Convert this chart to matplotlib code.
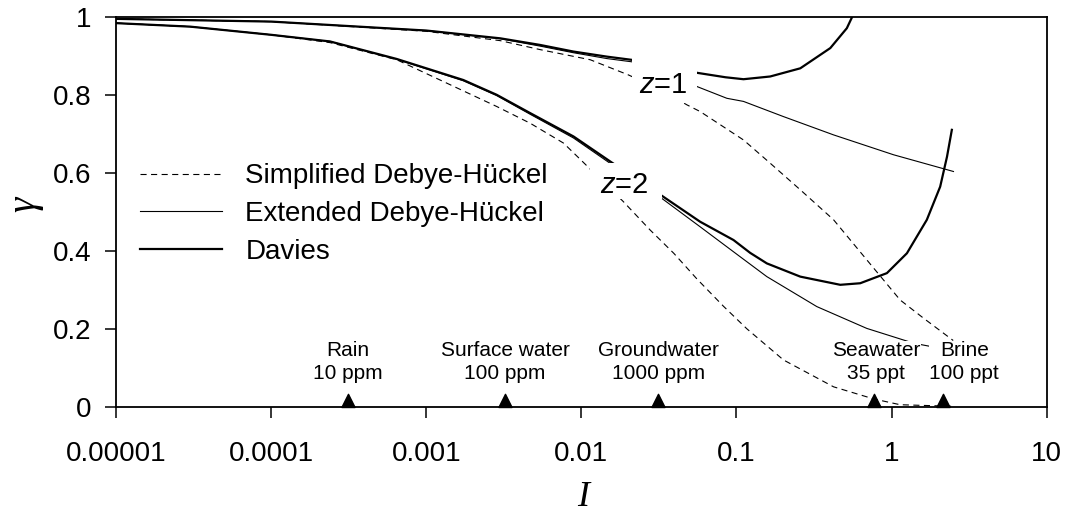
import matplotlib
matplotlib.use("Agg")
import matplotlib.pyplot as plt
from matplotlib.patches import Rectangle
from matplotlib.path import Path
from matplotlib.ticker import NullLocator

plt.rcParams['font.family'] = ['Liberation Sans', 'DejaVu Sans']
plt.rcParams['mathtext.fontset'] = 'custom'
plt.rcParams['mathtext.it'] = 'Liberation Sans:italic'
plt.rcParams['mathtext.rm'] = 'Liberation Sans'

# ---- data ----
# z = 1
I_sdh1 = [1e-5, 1e-4, 1e-3, 3e-3, 5.42e-3, 0.0114, 0.0201, 0.032, 0.048, 0.0583, 0.111,
          0.16, 0.258, 0.423, 0.693, 1.137, 1.6, 2.16, 2.5]
g_sdh1 = [0.996, 0.989, 0.964, 0.940, 0.917, 0.891, 0.852, 0.815, 0.775, 0.758, 0.685,
          0.630, 0.557, 0.480, 0.377, 0.274, 0.228, 0.189, 0.170]

I_edh1 = [1e-5, 1e-4, 1e-3, 3e-3, 5.42e-3, 8.89e-3, 0.0146, 0.0228, 0.035, 0.0566, 0.0867,
          0.111, 0.201, 0.423, 1.03, 2.51]
g_edh1 = [0.996, 0.989, 0.966, 0.945, 0.926, 0.909, 0.894, 0.884, 0.855, 0.821, 0.792,
          0.784, 0.745, 0.698, 0.647, 0.604]

I_dav1 = [1e-5, 1e-4, 1e-3, 3e-3, 5.42e-3, 8.89e-3, 0.0146, 0.0228, 0.035, 0.0566, 0.085,
          0.111, 0.165, 0.258, 0.403, 0.515, 0.556, 0.60]
g_dav1 = [0.996, 0.989, 0.966, 0.946, 0.929, 0.912, 0.899, 0.889, 0.872, 0.857, 0.846,
          0.841, 0.848, 0.869, 0.921, 0.972, 1.0, 1.05]

# z = 2
I_sdh2 = [1e-5, 3e-5, 1e-4, 2.39e-4, 6.44e-4, 2.84e-3, 4.67e-3, 7.66e-3, 9.9e-3, 0.0186,
          0.0277, 0.0394, 0.0556, 0.0824, 0.1167, 0.201, 0.423, 0.766, 1.137, 2.5]
g_sdh2 = [0.985, 0.976, 0.955, 0.935, 0.891, 0.771, 0.728, 0.677, 0.634, 0.527,
          0.454, 0.394, 0.328, 0.258, 0.200, 0.120, 0.051, 0.020, 0.005, 0.001]

I_edh2 = [1e-5, 3e-5, 1e-4, 2.39e-4, 6.44e-4, 1.73e-3, 2.84e-3, 4.67e-3, 8.89e-3, 0.0157,
          0.0335, 0.0583, 0.1057, 0.157, 0.330, 0.693, 1.39, 2.06, 2.5]
g_edh2 = [0.985, 0.976, 0.955, 0.938, 0.892, 0.837, 0.799, 0.751, 0.690, 0.622,
          0.533, 0.462, 0.385, 0.334, 0.257, 0.201, 0.163, 0.150, 0.142]

I_dav2 = [1e-5, 3e-5, 1e-4, 2.39e-4, 6.44e-4, 1.73e-3, 2.84e-3, 4.67e-3, 8.89e-3, 0.0157,
          0.0335, 0.0583, 0.0957, 0.1226, 0.157, 0.258, 0.467, 0.628, 0.934, 1.257,
          1.69, 2.06, 2.28, 2.45]
g_dav2 = [0.985, 0.976, 0.955, 0.938, 0.893, 0.839, 0.801, 0.754, 0.694, 0.627,
          0.540, 0.475, 0.428, 0.395, 0.368, 0.334, 0.313, 0.317, 0.343, 0.394,
          0.480, 0.565, 0.642, 0.711]

# water types
water_I = [3.13e-4, 3.22e-3, 0.0314, 0.766, 2.16]
water_labels = ["Rain\n10 ppm", "Surface water\n100 ppm", "Groundwater\n1000 ppm",
                "Seawater\n35 ppt", "Brine\n100 ppt"]

xticks = [1e-5, 1e-4, 1e-3, 1e-2, 0.1, 1, 10]
xticklabels = ["0.00001", "0.0001", "0.001", "0.01", "0.1", "1", "10"]
yticks = [0, 0.2, 0.4, 0.6, 0.8, 1]
yticklabels = ["0", "0.2", "0.4", "0.6", "0.8", "1"]

fig = plt.figure(figsize=(10.69, 5.12), dpi=100)
ax = fig.add_axes([0.1088, 0.2057, 0.8702, 0.7605])

dash = dict(color='black', lw=0.8, linestyle=(0, (5.5, 4)))
thin = dict(color='black', lw=0.8)
thick = dict(color='black', lw=1.6)

ax.plot(I_sdh1, g_sdh1, **dash, label="Simplified Debye-Hückel")
ax.plot(I_edh1, g_edh1, **thin, label="Extended Debye-Hückel")
ax.plot(I_dav1, g_dav1, **thick, label="Davies")
ax.plot(I_sdh2, g_sdh2, **dash)
ax.plot(I_edh2, g_edh2, **thin)
ax.plot(I_dav2, g_dav2, **thick)

ax.set_xscale('log')
ax.set_xlim(1e-5, 10)
ax.set_ylim(0, 1)
ax.set_xticks(xticks, xticklabels)
ax.set_yticks(yticks, yticklabels)
ax.xaxis.set_minor_locator(NullLocator())
ax.tick_params(axis='both', labelsize=20, length=8, width=1.1, direction='out')
ax.tick_params(axis='x', pad=17)
ax.tick_params(axis='y', pad=10)
for s in ax.spines.values():
    s.set_linewidth(1.3)

# white boxes behind the z labels
ax.add_patch(Rectangle((0.0212, 0.780), 0.0557 - 0.0212, 0.896 - 0.780,
                       facecolor='white', edgecolor='none', zorder=3))
ax.add_patch(Rectangle((0.01137, 0.534), 0.0332 - 0.01137, 0.627 - 0.534,
                       facecolor='white', edgecolor='none', zorder=3))
ax.text(0.0336, 0.827, "$z$=1", fontsize=21, ha='center', va='center', zorder=4)
ax.text(0.019, 0.570, "$z$=2", fontsize=21, ha='center', va='center', zorder=4)

# triangles and water labels
tri = Path([(-0.5, 0), (0.5, 0), (0, 1), (-0.5, 0)],
           [Path.MOVETO, Path.LINETO, Path.LINETO, Path.CLOSEPOLY])
ax.plot(water_I, [0] * len(water_I), linestyle='none', marker=tri, markersize=19,
        color='black', clip_on=False, zorder=5)
label_shift = [0, 0, 0, 2, 15]  # points, horizontal nudge of each label
for xi, lab, dx in zip(water_I, water_labels, label_shift):
    ax.annotate(lab, (xi, 0.06), xytext=(dx, 0), textcoords='offset points',
                fontsize=15, ha='center', va='bottom', linespacing=1.26,
                zorder=4, bbox=dict(facecolor='white', edgecolor='none', pad=0))

ax.set_ylabel("γ", family='Liberation Serif', style='italic', fontsize=28)
ax.yaxis.set_label_coords(-0.078, 0.52)
ax.set_xlabel("I", family='Liberation Serif', style='italic', fontsize=26)
ax.xaxis.set_label_coords(0.502, -0.19)

ax.legend(loc='upper left', bbox_to_anchor=(0.0254, 0.625), frameon=False, fontsize=20,
          borderpad=0, borderaxespad=0, handlelength=2.95, handletextpad=0.85,
          labelspacing=0.42)

fig.savefig("out.png", dpi=100)
